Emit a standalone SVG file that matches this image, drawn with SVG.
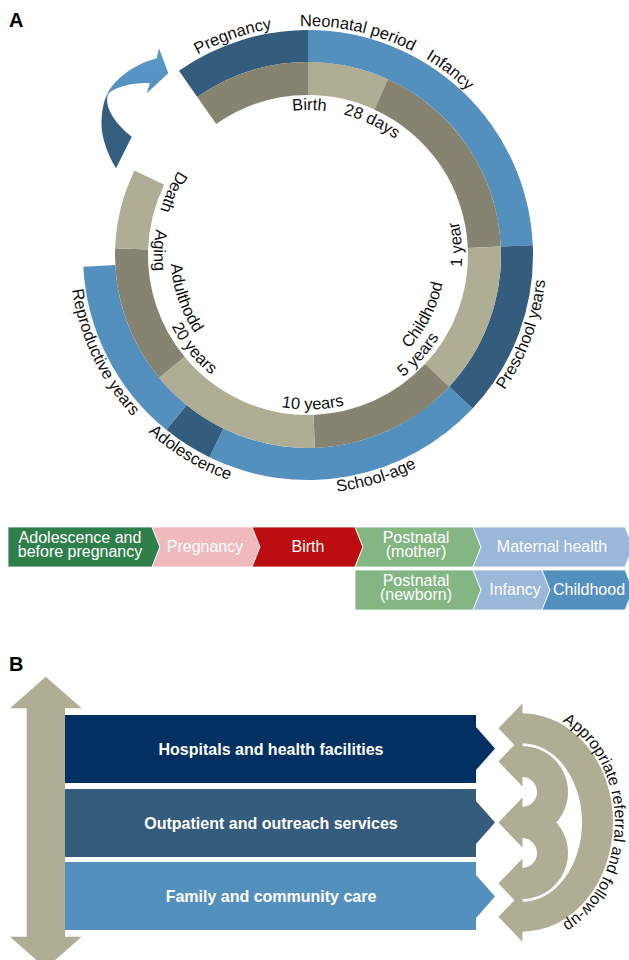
<svg xmlns="http://www.w3.org/2000/svg" width="629" height="960" viewBox="0 0 629 960">
<style>
.lbl{font-family:"Liberation Sans",Arial,sans-serif;font-size:16.5px;fill:#111}
.hdr{font-family:"Liberation Sans",Arial,sans-serif;font-size:20px;font-weight:bold;fill:#000}
.ct{font-family:"Liberation Sans",Arial,sans-serif;font-size:16px;fill:#fff;text-anchor:middle}
.bt{font-family:"Liberation Sans",Arial,sans-serif;font-size:16px;font-weight:bold;fill:#fff;text-anchor:middle}
.ar{font-family:"Liberation Sans",Arial,sans-serif;font-size:16px;fill:#111}
.db{fill:#345c7d}.lb{fill:#5490be}.dg{fill:#868370}.lg{fill:#b0ad95}
.chev path{stroke:#fff;stroke-width:0.8}
.gray{fill:#b0ad95}
</style>
<defs>
<linearGradient id="arrGrad" gradientUnits="userSpaceOnUse" x1="0" y1="55" x2="0" y2="100">
<stop offset="0" stop-color="#5a98c8"/>
<stop offset="0.9" stop-color="#5490be"/>
<stop offset="1" stop-color="#345d7e"/>
</linearGradient>
<path id="cwOut" d="M79,255 A229,229 0 0 1 537,255 A229,229 0 0 1 79,255"/>
<path id="cwIn" d="M163,255 A145,145 0 0 1 453,255 A145,145 0 0 1 163,255"/>
<path id="ccwOut" d="M69.5,255 A238.5,238.5 0 0 0 546.5,255 A238.5,238.5 0 0 0 69.5,255"/>
<path id="ccwIn1" d="M230.5,120.77 A155,155 0 0 0 385.5,389.23 A155,155 0 0 0 230.5,120.77"/>
<path id="ccwIn2" d="M239,135.49 A138,138 0 0 0 377,374.51 A138,138 0 0 0 239,135.49"/>
<path id="refPath" d="M522,710.5 A93,112 0 0 1 522,934.5"/>
</defs>

<text class="hdr" x="9" y="27">A</text>

<g id="ring-outer">
<path class="db" d="M178.94,70.68 A225,225 0 0 1 308,30 L308,62 A193,193 0 0 0 197.30,96.89 Z"/>
<path class="lb" d="M308,30 A225,225 0 0 1 532.79,245.19 L500.82,246.58 A193,193 0 0 0 308,62 Z"/>
<path class="db" d="M532.79,245.19 A225,225 0 0 1 472.57,408.45 L449.16,386.63 A193,193 0 0 0 500.82,246.58 Z"/>
<path class="lb" d="M472.57,408.45 A225,225 0 0 1 209.36,457.23 L223.39,428.47 A193,193 0 0 0 449.16,386.63 Z"/>
<path class="db" d="M209.36,457.23 A225,225 0 0 1 166.41,429.85 L186.55,404.98 A193,193 0 0 0 223.39,428.47 Z"/>
<path class="lb" d="M166.41,429.85 A225,225 0 0 1 83.31,266.78 L115.26,265.10 A193,193 0 0 0 186.55,404.98 Z"/>
</g>

<g id="ring-inner">
<path class="dg" d="M197.30,96.89 A193,193 0 0 1 308,62 L308,95 A160,160 0 0 0 216.22,123.93 Z"/>
<path class="lg" d="M308,62 A193,193 0 0 1 388.04,79.37 L374.35,109.4 A160,160 0 0 0 308,95 Z"/>
<path class="dg" d="M388.04,79.37 A193,193 0 0 1 500.82,246.58 L467.85,248.02 A160,160 0 0 0 374.35,109.4 Z"/>
<path class="lg" d="M500.82,246.58 A193,193 0 0 1 449.16,386.63 L425.02,364.12 A160,160 0 0 0 467.85,248.02 Z"/>
<path class="dg" d="M449.16,386.63 A193,193 0 0 1 314.74,447.88 L313.58,414.90 A160,160 0 0 0 425.02,364.12 Z"/>
<path class="lg" d="M314.74,447.88 A193,193 0 0 1 159.08,377.77 L184.54,356.78 A160,160 0 0 0 313.58,414.90 Z"/>
<path class="dg" d="M159.08,377.77 A193,193 0 0 1 115.12,248.26 L148.10,249.42 A160,160 0 0 0 184.54,356.78 Z"/>
<path class="lg" d="M115.12,248.26 A193,193 0 0 1 134.53,170.39 L164.19,184.86 A160,160 0 0 0 148.10,249.42 Z"/>
</g>

<g id="cycle-arrow">
<path fill="url(#arrGrad)" d="M116,168.3 C106,152 100,132 101.7,118 C102.5,104 106,94 111.7,86.7 C120,76 135,64 156.7,58.3 L159,48.3 L168.3,73.3 L146.7,93.3 L150,83.3 C136,82 118,86 109,93 C104,100 108,118 131.7,136.7 Z"/>
</g>

<g id="ring-labels">
<text class="lbl" text-anchor="middle"><textPath href="#cwOut" startOffset="283.8">Pregnancy</textPath></text>
<text class="lbl" text-anchor="middle"><textPath href="#cwOut" startOffset="409.7">Neonatal period</textPath></text>
<text class="lbl" text-anchor="middle"><textPath href="#cwOut" startOffset="509.6">Infancy</textPath></text>
<text class="lbl" text-anchor="middle"><textPath href="#cwIn" startOffset="229">Birth</textPath></text>
<text class="lbl" text-anchor="middle"><textPath href="#cwIn" startOffset="292.3">28 days</textPath></text>
<text class="lbl" text-anchor="middle"><textPath href="#ccwOut" startOffset="664.3">Preschool years</textPath></text>
<text class="lbl" text-anchor="middle"><textPath href="#ccwOut" startOffset="445.4">School-age</textPath></text>
<text class="lbl" text-anchor="middle"><textPath href="#ccwOut" startOffset="246.8">Adolescence</textPath></text>
<text class="lbl" text-anchor="middle"><textPath href="#ccwOut" startOffset="106.1">Reproductive years</textPath></text>
<text class="lbl" text-anchor="middle"><textPath href="#ccwIn1" startOffset="657.4">1 year</textPath></text>
<text class="lbl" text-anchor="middle"><textPath href="#ccwIn1" startOffset="532.9">5 years</textPath></text>
<text class="lbl" text-anchor="middle"><textPath href="#ccwIn1" startOffset="408.5">10 years</textPath></text>
<text class="lbl" text-anchor="middle"><textPath href="#ccwIn1" startOffset="267.3">20 years</textPath></text>
<text class="lbl" text-anchor="middle"><textPath href="#ccwIn1" startOffset="156.9">Aging</textPath></text>
<text class="lbl" text-anchor="middle"><textPath href="#ccwIn1" startOffset="94.7">Death</textPath></text>
<text class="lbl" text-anchor="middle"><textPath href="#ccwIn2" startOffset="510.6">Childhood</textPath></text>
<text class="lbl" text-anchor="middle"><textPath href="#ccwIn2" startOffset="190.3">Adulthodd</textPath></text>
</g>

<g id="chevrons" class="chev">
<g id="c-adolescence"><path fill="#2e7f49" d="M8,527 H152 L160,547 L152,567 H8 Z"/>
<text class="ct" x="80" y="542.5">Adolescence and</text><text class="ct" x="80" y="557">before pregnancy</text></g>
<g id="c-pregnancy"><path fill="#efb9bd" d="M152,527 H252 L260,547 L252,567 H152 L160,547 Z"/>
<text class="ct" x="205" y="551.5">Pregnancy</text></g>
<g id="c-birth"><path fill="#bc0e10" d="M252,527 H355 L363,547 L355,567 H252 L260,547 Z"/>
<text class="ct" x="308" y="551.5">Birth</text></g>
<g id="c-post-mother"><path fill="#83b683" d="M355,527 H473 L481,547 L473,567 H355 L363,547 Z"/>
<text class="ct" x="416" y="542.5">Postnatal</text><text class="ct" x="416" y="556.5">(mother)</text></g>
<g id="c-maternal"><path fill="#9bb7da" d="M473,527 H625 L633,547 L625,567 H473 L481,547 Z"/>
<text class="ct" x="552" y="551.5">Maternal health</text></g>
<g id="c-post-newborn"><path fill="#83b683" d="M355,570 H473 L481,590 L473,610 H355 Z"/>
<text class="ct" x="416" y="585.5">Postnatal</text><text class="ct" x="416" y="599.5">(newborn)</text></g>
<g id="c-infancy"><path fill="#9bb7da" d="M473,570 H542 L550,590 L542,610 H473 L481,590 Z"/>
<text class="ct" x="515" y="594.5">Infancy</text></g>
<g id="c-childhood"><path fill="#5490be" d="M542,570 H625 L633,590 L625,610 H542 L550,590 Z"/>
<text class="ct" x="589" y="594.5">Childhood</text></g>
</g>

<text class="hdr" x="9" y="671">B</text>

<g id="vertical-arrow">
<path class="gray" d="M45.8,676.7 L81.7,708.3 L65,708.3 L65,936.7 L81.7,936.7 L45.8,968.3 L10,936.7 L26.7,936.7 L26.7,708.3 L10,708.3 Z"/>
</g>

<g id="bar-hospitals"><path fill="#033063" d="M65,715 H476 V727 L495,748.5 L476,770 V783 H65 Z"/>
<text class="bt" x="271" y="754.5">Hospitals and health facilities</text></g>
<g id="bar-outpatient"><path fill="#355c7c" d="M65,789 H476 V801 L495,822.5 L476,844 V857 H65 Z"/>
<text class="bt" x="271" y="828.5">Outpatient and outreach services</text></g>
<g id="bar-family"><path fill="#5490be" d="M65,862 H476 V875 L495,896.5 L476,918 V930 H65 Z"/>
<text class="bt" x="271" y="902">Family and community care</text></g>

<g id="connectors">
<g id="referral-arrows" class="gray">
<path d="M522,713.3 A91,109.2 0 0 1 522,931.7 L522,901.8 A60,79.3 0 0 0 522,743.2 Z"/>
<path d="M522,746 A46,46 0 0 1 522,838 L522,807 A15,15 0 0 0 522,777 Z"/>
<path d="M522,807 A46,46 0 0 1 522,899 L522,868 A15,15 0 0 0 522,838 Z"/>
<path d="M498.5,728.3 L522.5,703.3 L522.5,753.3 Z"/>
<path d="M498.5,761.5 L522.5,736.5 L522.5,786.5 Z"/>
<path d="M498.5,822.5 L522.5,797.5 L522.5,847.5 Z"/>
<path d="M498.5,883.5 L522.5,858.5 L522.5,908.5 Z"/>
<path d="M498.5,916.8 L522.5,891.8 L522.5,941.8 Z"/>
</g>
<text class="ar" text-anchor="middle"><textPath href="#refPath" startOffset="50%">Appropriate referral and follow-up</textPath></text>
</g>
</svg>
